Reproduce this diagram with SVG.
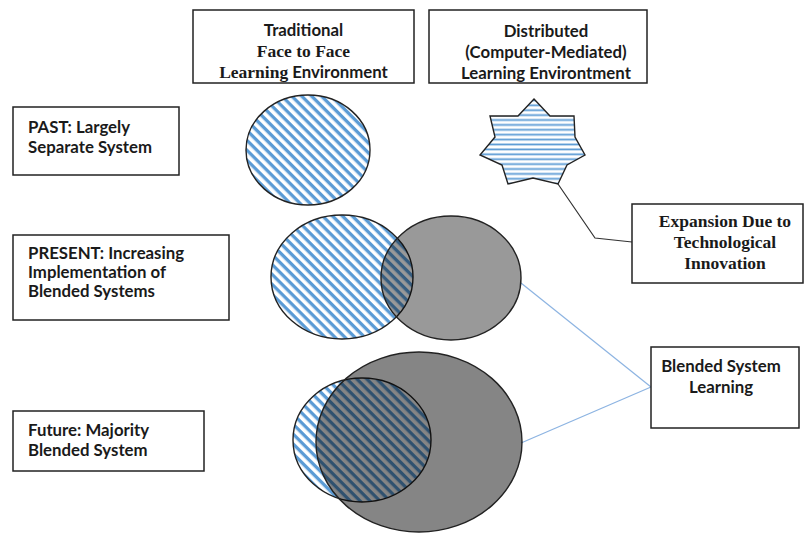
<svg xmlns="http://www.w3.org/2000/svg" width="807" height="534" viewBox="0 0 807 534">
<defs>
<pattern id="diag" patternUnits="userSpaceOnUse" width="7" height="7" patternTransform="rotate(45)">
<rect width="7" height="7" fill="#ffffff"/>
<rect width="7" height="3.3" fill="#5B9BD5"/>
</pattern>
<pattern id="horiz" patternUnits="userSpaceOnUse" width="10" height="4.9">
<rect width="10" height="4.9" fill="#ffffff"/>
<rect y="1.5" width="10" height="1.8" fill="#5B9BD5"/>
</pattern>
<clipPath id="clipTop"><rect x="0" y="0" width="807" height="82"/></clipPath>
<style>
.box{fill:#fff;stroke:#222;stroke-width:1.5}
.sans{font-family:Lato,"Open Sans","Liberation Sans",sans-serif;font-weight:bold;font-size:16.8px;fill:#1a1a1a}
.serif{font-family:"Liberation Serif","Times New Roman",serif;font-weight:bold;font-size:17.5px;fill:#1a1a1a}
.hatch{fill:url(#diag);stroke:#222;stroke-width:1.4}
.gray1{fill:#000;fill-opacity:0.4;stroke:#222;stroke-width:1.4}
.gray2{fill:#000;fill-opacity:0.48;stroke:#222;stroke-width:1.4}
.star{fill:url(#horiz);stroke:#222;stroke-width:1.4;stroke-linejoin:miter}
.blue{fill:none;stroke:#8DB4E2;stroke-width:1.3}
.black{fill:none;stroke:#333;stroke-width:1.2}
</style>
</defs>

<g id="connectors">
<polyline class="black" points="558,184 595,238 632,242"/>
<line class="blue" x1="521" y1="283" x2="651" y2="387"/>
<line class="blue" x1="521" y1="443" x2="651" y2="387"/>
</g>

<g id="traditional">
<rect class="box" x="193" y="10" width="221" height="73"/>
<g clip-path="url(#clipTop)">
<text class="sans" x="303.5" y="36" text-anchor="middle">Traditional</text>
<text class="serif" x="303.5" y="57" text-anchor="middle">Face to Face</text>
<text x="303.5" y="78" text-anchor="middle"><tspan class="serif">Learning</tspan><tspan class="sans"> Environment</tspan></text>
</g>
</g>

<g id="distributed">
<rect class="box" x="429" y="10" width="218" height="73"/>
<g clip-path="url(#clipTop)">
<text class="sans" x="546" y="37" text-anchor="middle">Distributed</text>
<text class="sans" x="546" y="58" text-anchor="middle">(Computer-Mediated)</text>
<text class="sans" x="546" y="79" text-anchor="middle">Learning Environtment</text>
</g>
</g>

<g id="past">
<rect class="box" x="13" y="107" width="166" height="68"/>
<text class="sans" x="28" y="133">PAST: Largely</text>
<text class="sans" x="28" y="153">Separate System</text>
</g>

<g id="present">
<rect class="box" x="13" y="235" width="216" height="85"/>
<text class="sans" x="28" y="259">PRESENT: Increasing</text>
<text class="sans" x="28" y="278">Implementation of</text>
<text class="sans" x="28" y="297">Blended Systems</text>
</g>

<g id="future">
<rect class="box" x="13" y="411" width="191" height="60"/>
<text class="sans" x="28" y="436">Future: Majority</text>
<text class="sans" x="28" y="456">Blended System</text>
</g>

<g id="past-circle">
<ellipse class="hatch" cx="308" cy="150" rx="62" ry="55"/>
</g>

<g id="distributed-star">
<polygon class="star" points="534,99 550,116 574,116 575,137 585,155 567,165 558,184 533,178 508,184 502,165 480,155 495,137 490,116 518,116"/>
</g>

<g id="present-circles">
<ellipse class="hatch" cx="342" cy="277" rx="71" ry="62"/>
<ellipse class="gray1" cx="451" cy="278" rx="70" ry="62"/>
</g>

<g id="future-circles">
<ellipse class="hatch" cx="362" cy="440" rx="69" ry="62"/>
<ellipse class="gray2" cx="419" cy="442" rx="103" ry="90"/>
</g>

<g id="expansion">
<rect class="box" x="632" y="204" width="171" height="79"/>
<text class="serif" x="725" y="227" text-anchor="middle">Expansion Due to</text>
<text class="serif" x="725" y="248" text-anchor="middle">Technological</text>
<text class="serif" x="725" y="269" text-anchor="middle">Innovation</text>
</g>

<g id="blended">
<rect class="box" x="651" y="347" width="148" height="81"/>
<text class="sans" x="721" y="372" text-anchor="middle">Blended System</text>
<text class="sans" x="721" y="393" text-anchor="middle">Learning</text>
</g>
</svg>
